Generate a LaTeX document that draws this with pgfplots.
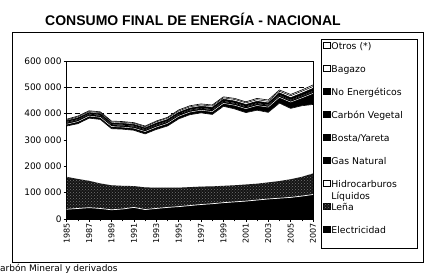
\documentclass[border=0pt]{standalone}
\usepackage{pgfplots}
\pgfplotsset{compat=1.18}
\usepackage{pgfplotstable}
\usetikzlibrary{patterns}
\usepackage{fontspec}
\setmainfont{DejaVu Sans}
\newfontfamily\arialfont{Liberation Sans}

\pgfplotstableread{
Year Elec Lena Hidro Gas Bosta Carbon NoEn Bagazo Otros
1985 37000 123000 193000 7000 6000 3000 4000 3000 3000
1986 40000 112000 210000 8000 6000 3000 5000 4000 3000
1987 43000 102000 238000 8000 6000 3000 4000 4000 3000
1988 40000 95000 243000 8000 6000 3000 5000 4000 3000
1989 35000 93000 215000 8000 6000 3000 5000 4000 3000
1990 38000 88000 215000 8000 6000 3000 5000 4000 3000
1991 44000 81000 212000 8000 6000 3000 5000 4000 3000
1992 36000 84000 203000 9000 6000 3000 5000 4000 3000
1993 40000 79000 221000 9000 6000 3000 6000 5000 3000
1994 44000 75000 234000 10000 6000 3000 6000 5000 3000
1995 47000 72000 261000 10000 6000 3000 6000 5000 4000
1996 51000 70000 275000 10000 6000 3000 6000 5000 4000
1997 55000 68000 280000 10000 6000 3000 6000 5000 4000
1998 58000 66000 273000 11000 6000 3000 7000 5000 4000
1999 62000 64000 302000 11000 6000 3000 7000 5000 4000
2000 65000 63000 290000 14000 6000 3000 7000 6000 4000
2001 68000 63000 273000 15000 6000 3000 7000 6000 4000
2002 72000 62000 279000 18000 6000 3000 7000 6000 5000
2003 76000 63000 266000 20000 6000 3000 7000 6000 5000
2004 79000 65000 296000 22000 6000 3000 8000 6000 5000
2005 82000 69000 269000 24000 6000 3000 8000 7000 5000
2006 87000 73000 270000 30000 6000 3000 9000 7000 5000
2007 93000 80000 262000 42000 6000 3000 10000 7000 6000
}\datatable

\pgfplotsset{
  common/.style={
    at={(66.7pt,56pt)}, anchor=south west,
    width=246.3pt, height=158pt, scale only axis,
    xmin=1985, xmax=2007, ymin=0, ymax=600000,
    stack plots=y, scaled y ticks=false,
    axis line style={line width=0.6pt},
  }
}

\begin{document}
\begin{tikzpicture}[x=1pt,y=1pt]
\useasboundingbox (0,0) rectangle (430,275);
\draw[line width=0.8pt] (12,13) rectangle (423,243);
\node[font=\arialfont\bfseries\fontsize{14}{16}\selectfont, anchor=base] at (193,249) {CONSUMO FINAL DE ENERGÍA - NACIONAL};
\node[anchor=base west, inner sep=0pt, font=\fontsize{9}{10}\selectfont] at (-6.3,3) {Carbón Mineral y derivados};
\draw[line width=0.6pt, fill=white] (321,27) rectangle (417,236);

\begin{axis}[common,
  xtick={1985,1987,1989,1991,1993,1995,1997,1999,2001,2003,2005,2007},
  xticklabels={1985,1987,1989,1991,1993,1995,1997,1999,2001,2003,2005,2007},
  minor x tick num=1,
  ytick={0,100000,200000,300000,400000,500000,600000},
  yticklabels={0,100 000,200 000,300 000,400 000,500 000,600 000},
  tick align=outside, xtick pos=left, ytick pos=left,
  major tick length=3pt, minor tick length=2.5pt,
  tick style={black, line width=0.5pt},
  ymajorgrids, grid style={black, line width=0.6pt, dash pattern=on 5pt off 3pt},
  xticklabel style={rotate=90, anchor=east, font=\fontsize{8}{9}\selectfont, inner sep=1pt},
  yticklabel style={font=\fontsize{9}{10}\selectfont, inner sep=2pt},
  reverse legend,
  legend image code/.code={\draw[#1, draw=black, line width=0.4pt] (0pt,-1pt) rectangle (7pt,5pt);},
  legend style={at={(1.04,1.126)}, anchor=north west, draw=none, fill=none,
    font=\fontsize{9.3}{12}\selectfont, row sep=11.5pt, inner sep=0pt,
    nodes={inner sep=1pt, text height=7.5pt, text depth=2pt}},
  legend cell align=left,
]
\addplot[fill=black, draw=none] table[x=Year,y=Elec]{\datatable} \closedcycle;
\addlegendentry{Electricidad}
\addplot[fill=black!92, draw=none, postaction={pattern=crosshatch dots, pattern color=black!55}] table[x=Year,y=Lena]{\datatable} \closedcycle;
\addlegendentry{Leña}
\addplot[fill=white, draw=none] table[x=Year,y=Hidro]{\datatable} \closedcycle;
\addlegendentry{\smash{\begin{tabular}[t]{@{}l@{}}Hidrocarburos\\Líquidos\end{tabular}}}
\addplot[fill=black, draw=none] table[x=Year,y=Gas]{\datatable} \closedcycle;
\addlegendentry{Gas Natural}
\addplot[fill=black, draw=none] table[x=Year,y=Bosta]{\datatable} \closedcycle;
\addlegendentry{Bosta/Yareta}
\addplot[fill=black, draw=none] table[x=Year,y=Carbon]{\datatable} \closedcycle;
\addlegendentry{Carbón Vegetal}
\addplot[fill=black, draw=none] table[x=Year,y=NoEn]{\datatable} \closedcycle;
\addlegendentry{No Energéticos}
\addplot[fill=white, draw=none] table[x=Year,y=Bagazo]{\datatable} \closedcycle;
\addlegendentry{Bagazo}
\addplot[fill=white, draw=none] table[x=Year,y=Otros]{\datatable} \closedcycle;
\addlegendentry{Otros (*)}
\end{axis}

\begin{axis}[common, xtick=\empty, ytick=\empty]
\addplot[draw=white, line width=0.7pt] table[x=Year,y=Elec]{\datatable};
\addplot[draw=none] table[x=Year,y=Lena]{\datatable};
\addplot[draw=black, line width=0.6pt] table[x=Year,y=Hidro]{\datatable};
\addplot[draw=white, line width=0.4pt] table[x=Year,y=Gas]{\datatable};
\addplot[draw=none] table[x=Year,y=Bosta]{\datatable};
\addplot[draw=none] table[x=Year,y=Carbon]{\datatable};
\addplot[draw=black, line width=0.5pt] table[x=Year,y=NoEn]{\datatable};
\addplot[draw=black, line width=0.5pt] table[x=Year,y=Bagazo]{\datatable};
\addplot[draw=black, line width=0.6pt] table[x=Year,y=Otros]{\datatable};
\end{axis}
\end{tikzpicture}
\end{document}
